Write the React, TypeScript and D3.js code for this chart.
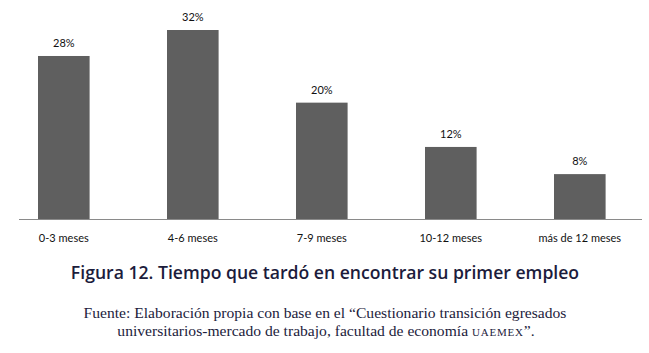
import React from "react";
import * as d3 from "d3";

const categories = ["0-3 meses", "4-6 meses", "7-9 meses", "10-12 meses", "más de 12 meses"];
const values = [27.6, 32.0, 19.7, 12.2, 7.6];
const valueLabels = ["28%", "32%", "20%", "12%", "8%"];
const title = "Figura 12. Tiempo que tardó en encontrar su primer empleo";
const sourceLine1 = "Fuente: Elaboración propia con base en el “Cuestionario transición egresados";
const sourceLine2a = "universitarios-mercado de trabajo, facultad de economía ";
const sourceLine2b = "uaemex";
const sourceLine2c = "”.";

export default function App() {
  const W = 649, H = 353;
  const baseline = 219;
  const x = d3.scaleBand<string>().domain(categories).range([-0.7, 644.3]).paddingInner(0.6).paddingOuter(0.3);
  const y = d3.scaleLinear().domain([0, 32]).range([baseline, 30]);
  const navy = "#1c1c3c";
  return (
    <svg width={W} height={H} style={{ position: "absolute", left: 0, top: 0, background: "#fff" }}>
      <rect x={0} y={0} width={W} height={H} fill="#fff" />
      {categories.map((c, i) => (
        <g key={c}>
          <rect x={x(c)} y={y(values[i])} width={x.bandwidth()} height={baseline - y(values[i])} fill="#5f5f5f" />
          <text x={x(c)! + x.bandwidth() / 2} y={y(values[i]) - 9} textAnchor="middle" fontFamily="Lato, 'Open Sans', sans-serif" fontSize={11} fill="#111">{valueLabels[i]}</text>
          <text x={x(c)! + x.bandwidth() / 2} y={242} textAnchor="middle" fontFamily="Lato, 'Open Sans', sans-serif" fontSize={11} fill="#111">{c}</text>
        </g>
      ))}
      <line x1={19} x2={642} y1={baseline + 0.5} y2={baseline + 0.5} stroke="#8a8a8a" strokeWidth={1} />
      <text x={325} y={279} textAnchor="middle" fontFamily="'Open Sans', sans-serif" fontWeight={600} fontSize={17.6} fill={navy}>{title}</text>
      <text x={325} y={318} textAnchor="middle" fontFamily="'Liberation Serif', serif" fontSize={15.6} fill={navy}>{sourceLine1}</text>
      <text x={326} y={336} textAnchor="middle" fontFamily="'Liberation Serif', serif" fontSize={15.6} fill={navy}>
        {sourceLine2a}<tspan style={{ fontVariant: "small-caps" }} letterSpacing={0.8}>{sourceLine2b}</tspan>{sourceLine2c}
      </text>
    </svg>
  );
}
